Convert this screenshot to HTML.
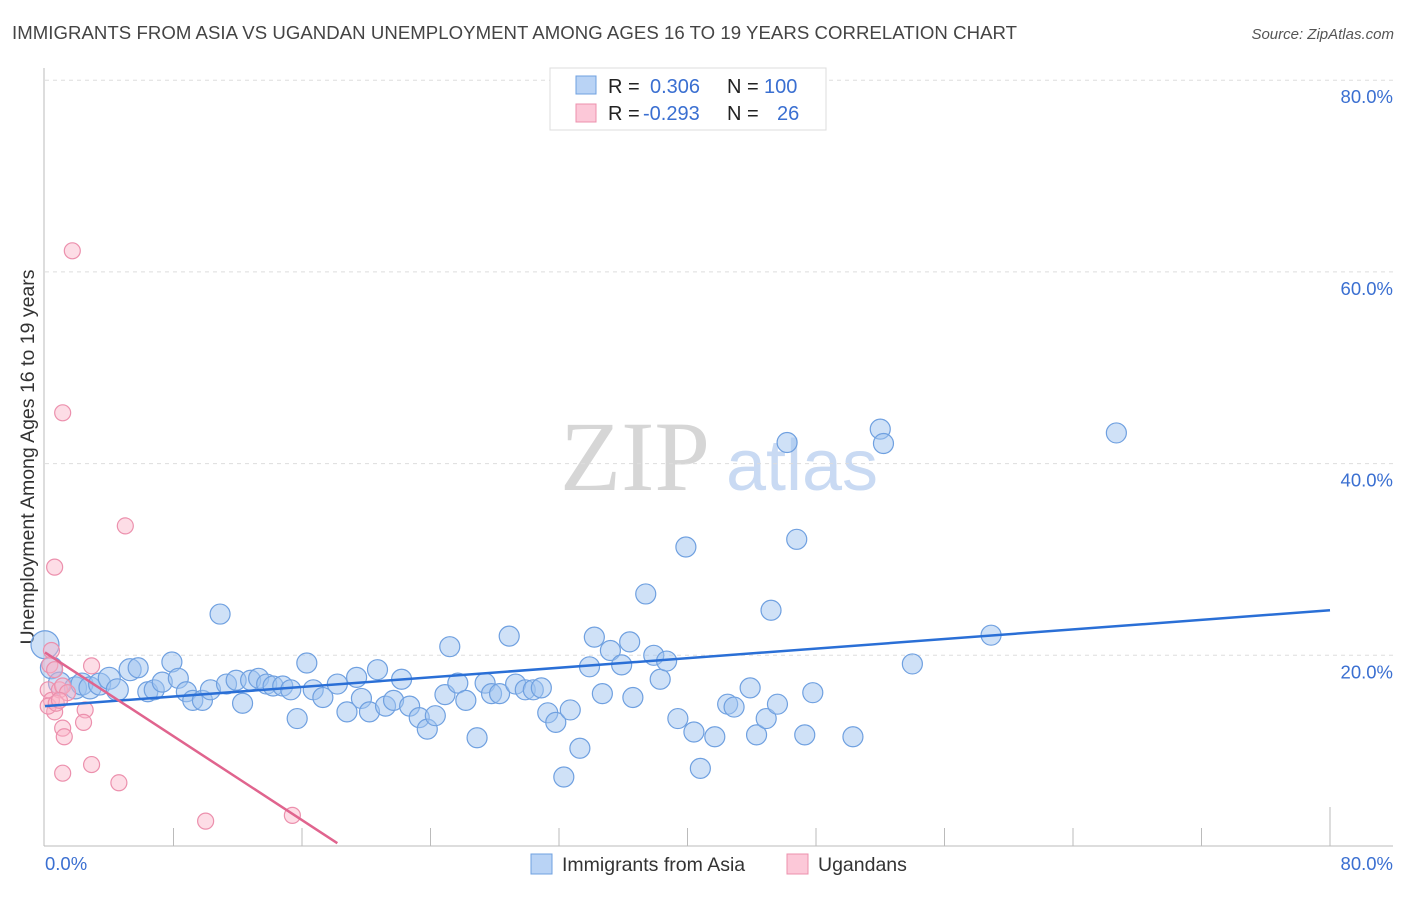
<!DOCTYPE html>
<html><head><meta charset="utf-8"><style>
body{margin:0;background:#fff;font-family:"Liberation Sans",sans-serif;}
svg text{font-family:"Liberation Sans",sans-serif;}
</style></head><body>
<svg id="chart" width="1406" height="892">
<text x="12" y="39" font-size="18.6" fill="#444" textLength="1005">IMMIGRANTS FROM ASIA VS UGANDAN UNEMPLOYMENT AMONG AGES 16 TO 19 YEARS CORRELATION CHART</text>
<text x="1394" y="39" font-size="15" fill="#555" font-style="italic" text-anchor="end">Source: ZipAtlas.com</text>
<text x="635" y="490" font-size="100" fill="#d6d6d6" text-anchor="middle" style="font-family:'Liberation Serif',serif">ZIP</text>
<text x="802" y="490" font-size="72" fill="#c9daf3" text-anchor="middle">atlas</text>
<text transform="translate(34,457) rotate(-90)" font-size="19.5" fill="#333" text-anchor="middle">Unemployment Among Ages 16 to 19 years</text>
<g id="grid"></g><g id="marks"></g>
<g>
<rect x="550" y="68" width="276" height="62" fill="#fff" stroke="#ddd"/>
<rect x="576" y="76" width="20" height="18" fill="#b9d3f5" stroke="#6fa0e0"/>
<rect x="576" y="104" width="20" height="18" fill="#fcc8d8" stroke="#ec90ad"/>
<text x="608" y="93" font-size="20" fill="#222">R = </text><text x="650" y="93" font-size="20" fill="#3a6fd1">0.306</text>
<text x="727" y="93" font-size="20" fill="#222">N = </text><text x="764" y="93" font-size="20" fill="#3a6fd1">100</text>
<text x="608" y="120" font-size="20" fill="#222">R = </text><text x="643" y="120" font-size="20" fill="#3a6fd1">-0.293</text>
<text x="727" y="120" font-size="20" fill="#222">N = </text><text x="777" y="120" font-size="20" fill="#3a6fd1">26</text>
</g>
<g>
<rect x="531" y="854" width="21" height="20" fill="#b9d3f5" stroke="#6fa0e0"/>
<text x="562" y="871" font-size="19.5" fill="#333">Immigrants from Asia</text>
<rect x="787" y="854" width="21" height="20" fill="#fcc8d8" stroke="#ec90ad"/>
<text x="818" y="871" font-size="19.5" fill="#333">Ugandans</text>
</g>
</svg>
<script>
const blueX=[0,0.4,0.9,1.9,2.3,2.8,3.4,4.0,4.5,5.3,5.8,6.4,6.8,7.3,7.9,8.3,8.8,9.2,9.8,10.3,10.9,11.3,11.9,12.3,12.8,13.3,13.8,14.2,14.8,15.3,15.7,16.3,16.7,17.3,18.2,18.8,19.4,19.7,20.2,20.7,21.2,21.7,22.2,22.7,23.3,23.8,24.3,24.9,25.2,25.7,26.2,26.9,27.4,27.8,28.3,28.9,29.3,29.9,30.4,30.9,31.3,31.8,32.3,32.7,33.3,33.9,34.2,34.7,35.2,35.9,36.4,36.6,37.4,37.9,38.3,38.7,39.4,39.9,40.4,40.8,41.7,42.5,42.9,43.9,44.3,44.9,45.2,45.6,46.2,46.8,47.3,47.8,50.3,52.0,52.2,54.0,58.9,66.7];
const blueY=[21.1,18.7,17.1,16.6,17.0,16.6,17.0,17.6,16.4,18.5,18.7,16.2,16.4,17.2,19.3,17.6,16.2,15.3,15.3,16.4,24.3,17.0,17.4,15.0,17.4,17.6,17.0,16.8,16.8,16.4,13.4,19.2,16.4,15.6,17.0,14.1,17.7,15.5,14.1,18.5,14.7,15.3,17.5,14.7,13.5,12.3,13.7,15.9,20.9,17.1,15.3,11.4,17.1,16.0,16.0,22.0,17.0,16.4,16.4,16.6,14.0,13.0,7.3,14.3,10.3,18.8,21.9,16.0,20.5,19.0,21.4,15.6,26.4,20.0,17.5,19.4,13.4,31.3,12.0,8.2,11.5,14.9,14.6,16.6,11.7,13.4,24.7,14.9,42.2,32.1,11.7,16.1,11.5,43.6,42.1,19.1,22.1,43.2];
const pinkX=[0.4,0.3,0.6,0.2,0.4,0.6,0.9,1.1,1.4,1.1,1.2,1.1,1.1,1.7,0.6,2.9,2.5,2.4,2.9,4.6,5.0,10.0,15.4,0.2,0.7,0.9];
const pinkY=[20.5,19.0,18.5,16.4,15.3,14.1,16.4,16.8,16.1,12.4,11.5,7.7,45.3,62.2,29.2,18.9,14.3,13.0,8.6,6.7,33.5,2.7,3.3,14.7,15.0,15.3];
const blueTrend=[14.7,24.7];
const pinkTrend=[20.3,0.4];
const pinkTrendEndX=18.2;
const yTicks=[20,40,60,80];
const NS="http://www.w3.org/2000/svg";
const sx=v=>45+v*(1285/80), sy=v=>847-v*9.585;
const grid=document.getElementById('grid'), marks=document.getElementById('marks');
function mk(tag,attrs,parent){const e=document.createElementNS(NS,tag);for(const k in attrs)e.setAttribute(k,attrs[k]);parent.appendChild(e);return e;}
yTicks.forEach(t=>{
 const l=mk('line',{x1:45,x2:1393,y1:sy(t),y2:sy(t),stroke:'#ddd','stroke-dasharray':'4,4'},grid);
 
 
 const tx=mk('text',{x:1393,y:sy(t)+23,'font-size':18.5,fill:'#3a6fd1','text-anchor':'end'},grid);
 tx.textContent=t.toFixed(1)+'%';
 
 
});
const ax=mk('line',{x1:44,x2:44,y1:68,y2:846,stroke:'#bbb'},grid);


const bx=mk('line',{x1:44,x2:1393,y1:846,y2:846,stroke:'#bbb'},grid);


for(let i=1;i<=10;i++){const x=sx(i*8);const tk=mk('line',{x1:x,x2:x,y1:i==10?807:828,y2:846,stroke:'#bbb'},grid);
 
 }
const xl0=mk('text',{x:45,y:870,'font-size':18.5,fill:'#3a6fd1'},grid);xl0.textContent='0.0%';


const xl1=mk('text',{x:1393,y:870,'font-size':18.5,fill:'#3a6fd1','text-anchor':'end'},grid);xl1.textContent='80.0%';


blueX.forEach((x,i)=>{const r=(i==0)?14:(i<10?11:10);
 const c=mk('circle',{cx:sx(x),cy:sy(blueY[i]),r:r,fill:'rgba(160,196,240,0.5)',stroke:'#6fa0e0','stroke-width':1.2},marks);
 
 });
pinkX.forEach((x,i)=>{
 const c=mk('circle',{cx:sx(x),cy:sy(pinkY[i]),r:8,fill:'rgba(250,180,200,0.45)',stroke:'#ec90ad','stroke-width':1.2},marks);
 
 });
const bl=mk('line',{x1:sx(0),y1:sy(blueTrend[0]),x2:sx(80),y2:sy(blueTrend[1]),stroke:'#2a6fd6','stroke-width':2.5},marks);


const pl=mk('line',{x1:sx(0),y1:sy(pinkTrend[0]),x2:sx(pinkTrendEndX),y2:sy(pinkTrend[1]),stroke:'#e0648e','stroke-width':2.5},marks);


</script>
</body></html>
